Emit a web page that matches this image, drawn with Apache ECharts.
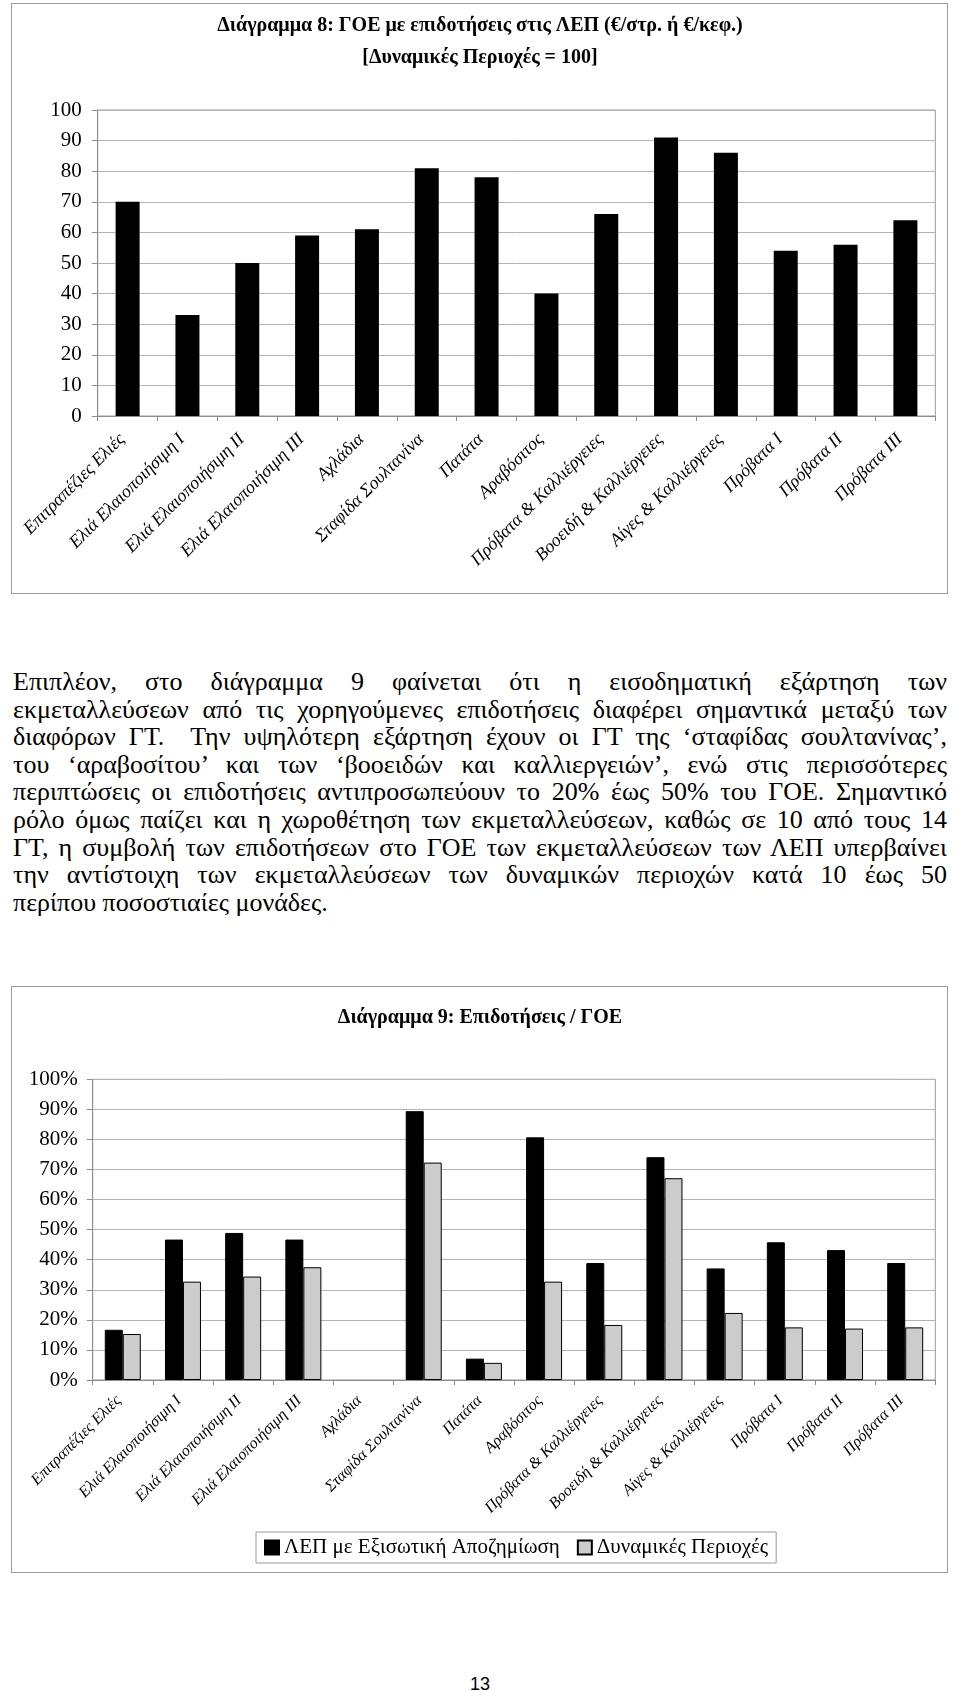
<!DOCTYPE html>
<html>
<head>
<meta charset="utf-8">
<script src="https://cdn.jsdelivr.net/npm/echarts@6/dist/echarts.min.js"></script>
<style>
  html, body { margin:0; padding:0; background:#fff; }
  body { width:960px; height:1691px; position:relative; overflow:hidden; }
  .frame { position:absolute; border:1px solid #9a9a9a; box-sizing:border-box; }
  .chart { position:absolute; left:0; width:960px; }
  #para { position:absolute; left:13px; width:934px; top:668px; font-family:"Liberation Serif", serif; font-size:26px; color:#000; }
  #para div { line-height:27.6px; height:27.6px; white-space:nowrap; text-align:justify; text-align-last:justify; }
  #para div.last { text-align:left; text-align-last:left; }
  #pnum { position:absolute; top:1677px; left:0; width:960px; text-align:center; font-family:"Liberation Sans", sans-serif; font-size:18px; line-height:15px; }
</style>
</head>
<body>
<div class="frame" style="left:11px; top:3px; width:937px; height:591px;"></div>
<div id="c1" class="chart" style="top:0; height:600px;"></div>
<div id="para">
  <div>Επιπλέον, στο διάγραμμα 9 φαίνεται ότι η εισοδηματική εξάρτηση των</div>
  <div>εκμεταλλεύσεων από τις χορηγούμενες επιδοτήσεις διαφέρει σημαντικά μεταξύ των</div>
  <div>διαφόρων ΓΤ.&nbsp; Την υψηλότερη εξάρτηση έχουν οι ΓΤ της ‘σταφίδας σουλτανίνας’,</div>
  <div>του ‘αραβοσίτου’ και των ‘βοοειδών και καλλιεργειών’, ενώ στις περισσότερες</div>
  <div>περιπτώσεις οι επιδοτήσεις αντιπροσωπεύουν το 20% έως 50% του ΓΟΕ. Σημαντικό</div>
  <div>ρόλο όμως παίζει και η χωροθέτηση των εκμεταλλεύσεων, καθώς σε 10 από τους 14</div>
  <div>ΓΤ, η συμβολή των επιδοτήσεων στο ΓΟΕ των εκμεταλλεύσεων των ΛΕΠ υπερβαίνει</div>
  <div>την αντίστοιχη των εκμεταλλεύσεων των δυναμικών περιοχών κατά 10 έως 50</div>
  <div class="last">περίπου ποσοστιαίες μονάδες.</div>
</div>
<div class="frame" style="left:11px; top:986px; width:937px; height:587px;"></div>
<div id="c2" class="chart" style="top:980px; height:600px;"></div>
<div id="pnum">13</div>
<script>
// ---------- data ----------
const categories = [
  "Επιτραπέζιες Ελιές",
  "Ελιά Ελαιοποιήσιμη Ι",
  "Ελιά Ελαιοποιήσιμη ΙΙ",
  "Ελιά Ελαιοποιήσιμη ΙΙΙ",
  "Αχλάδια",
  "Σταφίδα Σουλτανίνα",
  "Πατάτα",
  "Αραβόσιτος",
  "Πρόβατα & Καλλιέργειες",
  "Βοοειδή & Καλλιέργειες",
  "Αίγες & Καλλιέργειες",
  "Πρόβατα Ι",
  "Πρόβατα ΙΙ",
  "Πρόβατα ΙΙΙ"
];
const goeIndex = [70, 33, 50, 59, 61, 81, 78, 40, 66, 91, 86, 54, 56, 64];
const subsLEP = [16.7, 46.7, 48.9, 46.7, null, 89.4, 7.1, 80.7, 38.9, 74.1, 37.1, 45.8, 43.2, 38.9];
const subsDyn = [15.3, 32.7, 34.4, 37.5, null, 72.3, 5.7, 32.7, 18.3, 67.1, 22.3, 17.5, 17.1, 17.5];
const title1 = "Διάγραμμα 8: ΓΟΕ με επιδοτήσεις στις ΛΕΠ (€/στρ. ή €/κεφ.)\n[Δυναμικές Περιοχές = 100]";
const title2 = "Διάγραμμα 9: Επιδοτήσεις / ΓΟΕ";
const seriesNames = ["ΛΕΠ με Εξισωτική Αποζημίωση", "Δυναμικές Περιοχές"];

const serif = "'Liberation Serif', 'Times New Roman', serif";
const gridGrey = '#b4b4b4';

function xAxisCfg(fs, margin, pad) {
  return {
    type: 'category', data: categories,
    axisLine: { lineStyle: { color: '#8c8c8c', width: 1 } },
    axisTick: { show: true, length: 5, alignWithLabel: false, lineStyle: { color: '#8c8c8c' } },
    axisLabel: { interval: 0, rotate: 45, margin: margin, padding: [0, pad, 0, 0], color: '#000', fontFamily: serif, fontStyle: 'italic', fontSize: fs }
  };
}
function yAxisCfg(fmt, margin) {
  return {
    type: 'value', min: 0, max: 100, interval: 10,
    axisLine: { show: true, lineStyle: { color: '#8c8c8c', width: 1 } },
    axisTick: { show: true, length: 6, lineStyle: { color: '#8c8c8c' } },
    splitLine: { lineStyle: { color: gridGrey, width: 1 } },
    axisLabel: { formatter: fmt, margin: margin, color: '#000', fontFamily: serif, fontSize: 21 }
  };
}

const c1 = echarts.init(document.getElementById('c1'), null, { renderer: 'canvas' });
c1.setOption({
  animation: false,
  title: {
    text: title1, left: 'center', top: 5,
    textStyle: { fontFamily: serif, fontWeight: 'bold', fontSize: 20, lineHeight: 32, color: '#000' }
  },
  grid: { left: 97.7, right: 24.7, top: 110, height: 306, show: true, borderColor: '#9a9a9a', borderWidth: 1 },
  xAxis: xAxisCfg(18, 15, 8),
  yAxis: yAxisCfg('{value}', 16),
  series: [{
    type: 'bar', data: goeIndex, barWidth: 24,
    itemStyle: { color: '#000' }
  }]
});

const c2 = echarts.init(document.getElementById('c2'), null, { renderer: 'canvas' });
c2.setOption({
  animation: false,
  title: {
    text: title2, left: 'center', top: 23,
    textStyle: { fontFamily: serif, fontWeight: 'bold', fontSize: 20, color: '#000' }
  },
  grid: { left: 92.7, right: 24.7, top: 99.3, height: 300.7, show: true, borderColor: '#9a9a9a', borderWidth: 1 },
  xAxis: xAxisCfg(16, 14, 6),
  yAxis: yAxisCfg('{value}%', 15),
  legend: {
    left: 256, top: 552, orient: 'horizontal',
    padding: [5, 8, 5, 8], borderColor: '#9a9a9a', borderWidth: 1,
    itemWidth: 14, itemHeight: 14, itemGap: 17,
    icon: 'rect',
    textStyle: { fontFamily: serif, fontSize: 21, color: '#000' },
    data: seriesNames
  },
  series: [
    { name: seriesNames[0], type: 'bar', data: subsLEP, barWidth: 18, barGap: '0%',
      itemStyle: { color: '#000', borderColor: '#000', borderWidth: 1 } },
    { name: seriesNames[1], type: 'bar', data: subsDyn, barWidth: 18, barGap: '0%',
      itemStyle: { color: '#cccccc', borderColor: '#000', borderWidth: 1 } }
  ]
});
</script>
</body>
</html>
